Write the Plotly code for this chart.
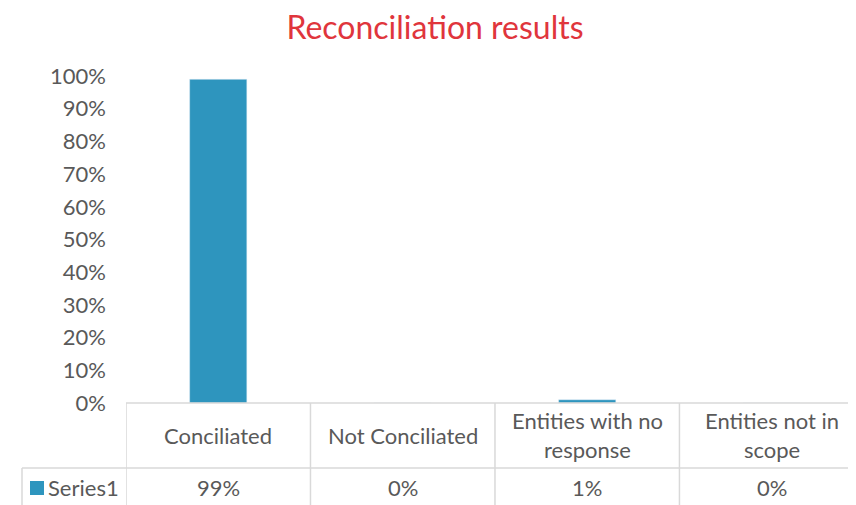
import plotly.graph_objects as go

categories = ["Conciliated", "Not Conciliated", "Entities with no<br>response", "Entities not in<br>scope"]
values = [0.99, 0.0, 0.01, 0.0]
series_name = "Series1"
title_text = "Reconciliation results"
tick_vals = [i / 10 for i in range(11)]
tick_text = [f"{i*10}%" for i in range(11)]

BAR = "#2E95BE"
TXT = "#595959"
GRID = "#D9D9D9"
FONT = "Lato"

OFF = 8  # page body margin
W, H = 856 - OFF, 505 - OFF
L = 126 - OFF
T = 76 - OFF
B = H - (403 - OFF)
R = 0
plot_h = H - T - B
plot_w = W - L - R

def py(pix):  # reference pixel y -> paper y
    return (H - B - (pix - OFF)) / plot_h

def px(pix):  # reference pixel x -> paper x
    return (pix - OFF - L) / plot_w

fig = go.Figure()
fig.add_trace(go.Bar(x=list(range(len(categories))), y=values, marker_color=BAR,
                     width=0.31, name=series_name, showlegend=False))

shapes = []
shapes.append(dict(type="line", xref="paper", yref="paper", x0=0, x1=1, y0=py(403), y1=py(403),
                   line=dict(color=GRID, width=1.5)))
shapes.append(dict(type="line", xref="paper", yref="paper", x0=px(22), x1=1, y0=py(468), y1=py(468),
                   line=dict(color=GRID, width=1.5)))
shapes.append(dict(type="line", xref="paper", yref="paper", x0=px(22), x1=px(22), y0=py(468), y1=py(520),
                   line=dict(color=GRID, width=1.5)))
for i in range(len(categories) + 1):
    shapes.append(dict(type="line", xref="x", yref="paper", x0=i - 0.5, x1=i - 0.5, y0=py(403), y1=py(520),
                       line=dict(color=GRID, width=1.5)))
shapes.append(dict(type="rect", xref="paper", yref="paper", x0=px(30), x1=px(44), y0=py(481), y1=py(495),
                   fillcolor=BAR, line=dict(width=0)))

annotations = []
for i, c in enumerate(categories):
    annotations.append(dict(x=i, xref="x", y=py(435), yref="paper", text=c, showarrow=False,
                            font=dict(size=22, color=TXT, family=FONT), yanchor="middle"))
    annotations.append(dict(x=i, xref="x", y=py(487), yref="paper", text=f"{round(values[i]*100)}%",
                            showarrow=False, font=dict(size=22, color=TXT, family=FONT), yanchor="middle"))
annotations.append(dict(x=px(46), xref="paper", y=py(487), yref="paper", text=series_name, showarrow=False,
                        xanchor="left", font=dict(size=22, color=TXT, family=FONT), yanchor="middle"))

fig.update_layout(
    width=W, height=H,
    margin=dict(l=L, r=R, t=T, b=B),
    paper_bgcolor="white", plot_bgcolor="white",
    title=dict(text=title_text, x=(435 - OFF) / W, xanchor="center", y=1 - (28 - OFF) / H, yanchor="middle",
               font=dict(size=32, color="#E0353C", family=FONT)),
    xaxis=dict(range=[-0.5, 3.457], showticklabels=False, showgrid=False, zeroline=False,
               showline=False, ticks=""),
    yaxis=dict(range=[0, 1], tickvals=tick_vals, ticktext=tick_text, showgrid=False, zeroline=False,
               showline=False, ticks="", ticklabelstandoff=19,
               tickfont=dict(size=22, color=TXT, family=FONT)),
    shapes=shapes, annotations=annotations,
)
fig.write_html("out.html")
